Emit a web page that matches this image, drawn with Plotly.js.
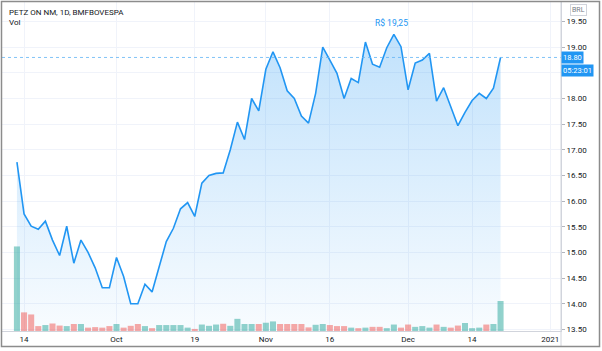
<!DOCTYPE html>
<html>
<head>
<meta charset="utf-8">
<script src="https://cdn.plot.ly/plotly-3.0.1.min.js"></script>
<style>
html,body{margin:0;padding:0;background:#fff;}
#chart{width:602px;height:351px;}
</style>
</head>
<body>
<div id="chart"></div>
<script>
// Trading sessions (B3), Sep 11 2020 (IPO) through first session of 2021
const sessions = [
 '2020-09-11','2020-09-14','2020-09-15','2020-09-16','2020-09-17','2020-09-18',
 '2020-09-21','2020-09-22','2020-09-23','2020-09-24','2020-09-25',
 '2020-09-28','2020-09-29','2020-09-30','2020-10-01','2020-10-02',
 '2020-10-05','2020-10-06','2020-10-07','2020-10-08','2020-10-09',
 '2020-10-13','2020-10-14','2020-10-15','2020-10-16',
 '2020-10-19','2020-10-20','2020-10-21','2020-10-22','2020-10-23',
 '2020-10-26','2020-10-27','2020-10-28','2020-10-29','2020-10-30',
 '2020-11-03','2020-11-04','2020-11-05','2020-11-06',
 '2020-11-09','2020-11-10','2020-11-11','2020-11-12','2020-11-13',
 '2020-11-16','2020-11-17','2020-11-18','2020-11-19','2020-11-20',
 '2020-11-23','2020-11-24','2020-11-25','2020-11-26','2020-11-27',
 '2020-11-30','2020-12-01','2020-12-02','2020-12-03','2020-12-04',
 '2020-12-07','2020-12-08','2020-12-09','2020-12-10','2020-12-11',
 '2020-12-14','2020-12-15','2020-12-16','2020-12-17','2020-12-18',
 '2020-12-21','2020-12-22','2020-12-23',
 '2020-12-28','2020-12-29','2020-12-30','2021-01-04'
];

// Daily close, BRL
const closePrice = [
 16.76,15.75,15.51,15.45,15.61,15.24,14.94,15.51,14.79,15.24,
 15.00,14.70,14.31,14.31,14.90,14.53,14.00,14.00,14.38,14.23,
 14.72,15.21,15.47,15.85,15.97,15.70,16.35,16.50,16.54,16.55,
 17.00,17.54,17.20,18.00,17.76,18.57,18.91,18.60,18.15,18.00,
 17.66,17.52,18.10,19.00,18.75,18.49,18.00,18.39,18.31,19.10,
 18.67,18.61,18.99,19.25,19.01,18.17,18.69,18.75,18.88,17.95,
 18.21,17.84,17.47,17.73,17.96,18.10,18.00,18.20,18.80
];

// Volume (millions of shares, estimated)
const volume = [
 32.7,7.2,6.4,1.9,2.3,2.9,2.1,1.9,2.7,2.7,
 1.3,1.5,1.3,1.9,2.7,1.3,2.0,2.7,1.9,1.1,
 2.3,2.3,2.3,2.3,1.3,0.8,2.5,2.0,2.5,2.8,
 2.0,4.7,2.7,2.7,2.7,3.2,3.7,2.7,2.7,2.7,
 2.7,1.4,2.4,2.7,2.3,1.9,1.9,1.3,1.1,1.3,
 1.6,1.6,1.1,2.5,1.3,2.5,1.6,1.9,1.3,2.5,
 1.6,1.3,2.1,3.1,1.1,1.3,2.5,2.7,11.6
];

// 1 = up day (teal), 0 = down day (red)
const volUp = [
 1,0,0,0,1,0,0,1,0,1,
 0,0,0,0,1,0,0,0,1,0,
 1,1,1,1,1,0,1,1,1,0,
 1,1,1,1,0,1,1,0,0,0,
 0,0,1,1,0,0,0,1,0,1,
 0,0,1,1,0,0,1,1,1,0,
 1,0,0,1,1,1,0,1,1
];

const tickDates = ['2020-09-14','2020-10-01','2020-10-19','2020-11-03','2020-11-16','2020-12-01','2020-12-14','2021-01-04'];
const tickLabels = ['14','Oct','19','Nov','16','Dec','14','2021'];

// Price axis ticks; 18.50 is covered by the countdown box in the original
const priceTicks = [13.5, 14, 14.5, 15, 15.5, 16, 16.5, 17, 17.5, 18, 18.5, 19, 19.5];
const priceTickText = ['13.50','14.00','14.50','15.00','15.50','16.00','16.50','17.00','17.50','18.00','','19.00','19.50'];

const xs = closePrice.map((_, i) => i);
const tickvals = tickDates.map(d => sessions.indexOf(d));
const last = closePrice[closePrice.length - 1];
const maxP = Math.max(...closePrice);
const maxI = closePrice.indexOf(maxP);
const maxV = Math.max(...volume);

const yMin = 13.468, yMax = 19.881;

const priceTrace = {
  x: xs, y: closePrice, type: 'scatter', mode: 'lines',
  line: {color: '#2196f3', width: 1.6},
  fill: 'tozeroy',
  fillcolor: 'rgba(33,150,243,0.12)',
  fillgradient: {type: 'vertical', start: yMin, stop: maxP,
    colorscale: [[0, 'rgba(33,150,243,0.03)'], [1, 'rgba(33,150,243,0.28)']]},
  hoverinfo: 'skip', yaxis: 'y'
};

const volTrace = {
  x: xs, y: volume, type: 'bar', yaxis: 'y2',
  marker: {color: volUp.map(u => u ? 'rgba(38,166,154,0.5)' : 'rgba(239,83,80,0.5)'), line: {width: 0}},
  hoverinfo: 'skip'
};

const font = 'Roboto, "Noto Sans", sans-serif';
const layout = {
  width: 602, height: 351,
  margin: {l: 2, r: 41, t: 2, b: 20},
  paper_bgcolor: '#ffffff', plot_bgcolor: '#ffffff',
  showlegend: false, bargap: 0.15,
  font: {family: font, size: 8, color: '#131722'},
  xaxis: {
    range: [-2.1, 76.5], tickvals: tickvals, ticktext: tickLabels,
    showgrid: true, gridcolor: '#f0f3fa', gridwidth: 1, zeroline: false,
    showline: true, linecolor: '#d1d4dc', linewidth: 1, ticks: '',
    tickfont: {family: font, size: 8, color: '#131722'}, fixedrange: true
  },
  yaxis: {
    side: 'right', range: [yMin, yMax], tickvals: priceTicks, ticktext: priceTickText,
    showgrid: true, gridcolor: '#f0f3fa', gridwidth: 1, zeroline: false,
    showline: true, linecolor: '#d1d4dc', linewidth: 1,
    ticks: 'outside', ticklen: 3, tickcolor: '#b2b5be',
    tickfont: {family: font, size: 8, color: '#131722'}
  },
  yaxis2: {overlaying: 'y', range: [0, maxV / 0.257], visible: false},
  shapes: [
    {type: 'line', xref: 'paper', yref: 'y', x0: 0, x1: 1, y0: last, y1: last,
     line: {color: '#64b5f6', width: 1, dash: 'dot'}, opacity: 0.8},
    {type: 'line', xref: 'paper', yref: 'paper', x0: 1, x1: 1, y0: -0.047, y1: 1,
     line: {color: '#d1d4dc', width: 1}},
    {type: 'rect', xref: 'paper', yref: 'paper', x0: -0.0009, x1: 1.0689, y0: -0.0471, y1: 1.0015,
     line: {color: '#8c8c8c', width: 1.5}, fillcolor: 'rgba(0,0,0,0)'}
  ],
  annotations: [
    {xref: 'paper', yref: 'paper', x: 0.0084, y: 0.9666, xanchor: 'left', yanchor: 'middle',
     text: 'PETZ ON NM, 1D, BMFBOVESPA', showarrow: false,
     font: {family: font, size: 8, color: '#131722'}},
    {xref: 'paper', yref: 'paper', x: 0.0084, y: 0.937, xanchor: 'left', yanchor: 'middle',
     text: 'Vol', showarrow: false, font: {family: font, size: 8, color: '#131722'}},
    {xref: 'x', yref: 'y', x: maxI, y: maxP, yshift: 11, xshift: -2, showarrow: false,
     text: 'R$ ' + maxP.toFixed(2).replace('.', ','),
     font: {family: font, size: 8.5, color: '#2196f3'}},
    {xref: 'paper', yref: 'y', x: 1, y: last, xanchor: 'left', yanchor: 'middle', showarrow: false,
     text: last.toFixed(2), bgcolor: '#2196f3', borderpad: 1,
     font: {family: font, size: 7.5, color: '#ffffff'}},
    {xref: 'paper', yref: 'y', x: 1, y: last, yshift: -13.5, xanchor: 'left', yanchor: 'middle', showarrow: false,
     text: '05:23:01', bgcolor: '#2196f3', borderpad: 1,
     font: {family: font, size: 7.5, color: '#ffffff'}},
    {xref: 'paper', yref: 'paper', x: 1.032, y: 0.9757, xanchor: 'center', yanchor: 'middle', showarrow: false,
     text: 'BRL', bordercolor: '#d1d4dc', borderwidth: 1, borderpad: 1,
     font: {family: font, size: 7, color: '#787b86'}}
  ]
};

Plotly.newPlot('chart', [priceTrace, volTrace], layout, {displayModeBar: false, staticPlot: true});
</script>
</body>
</html>
